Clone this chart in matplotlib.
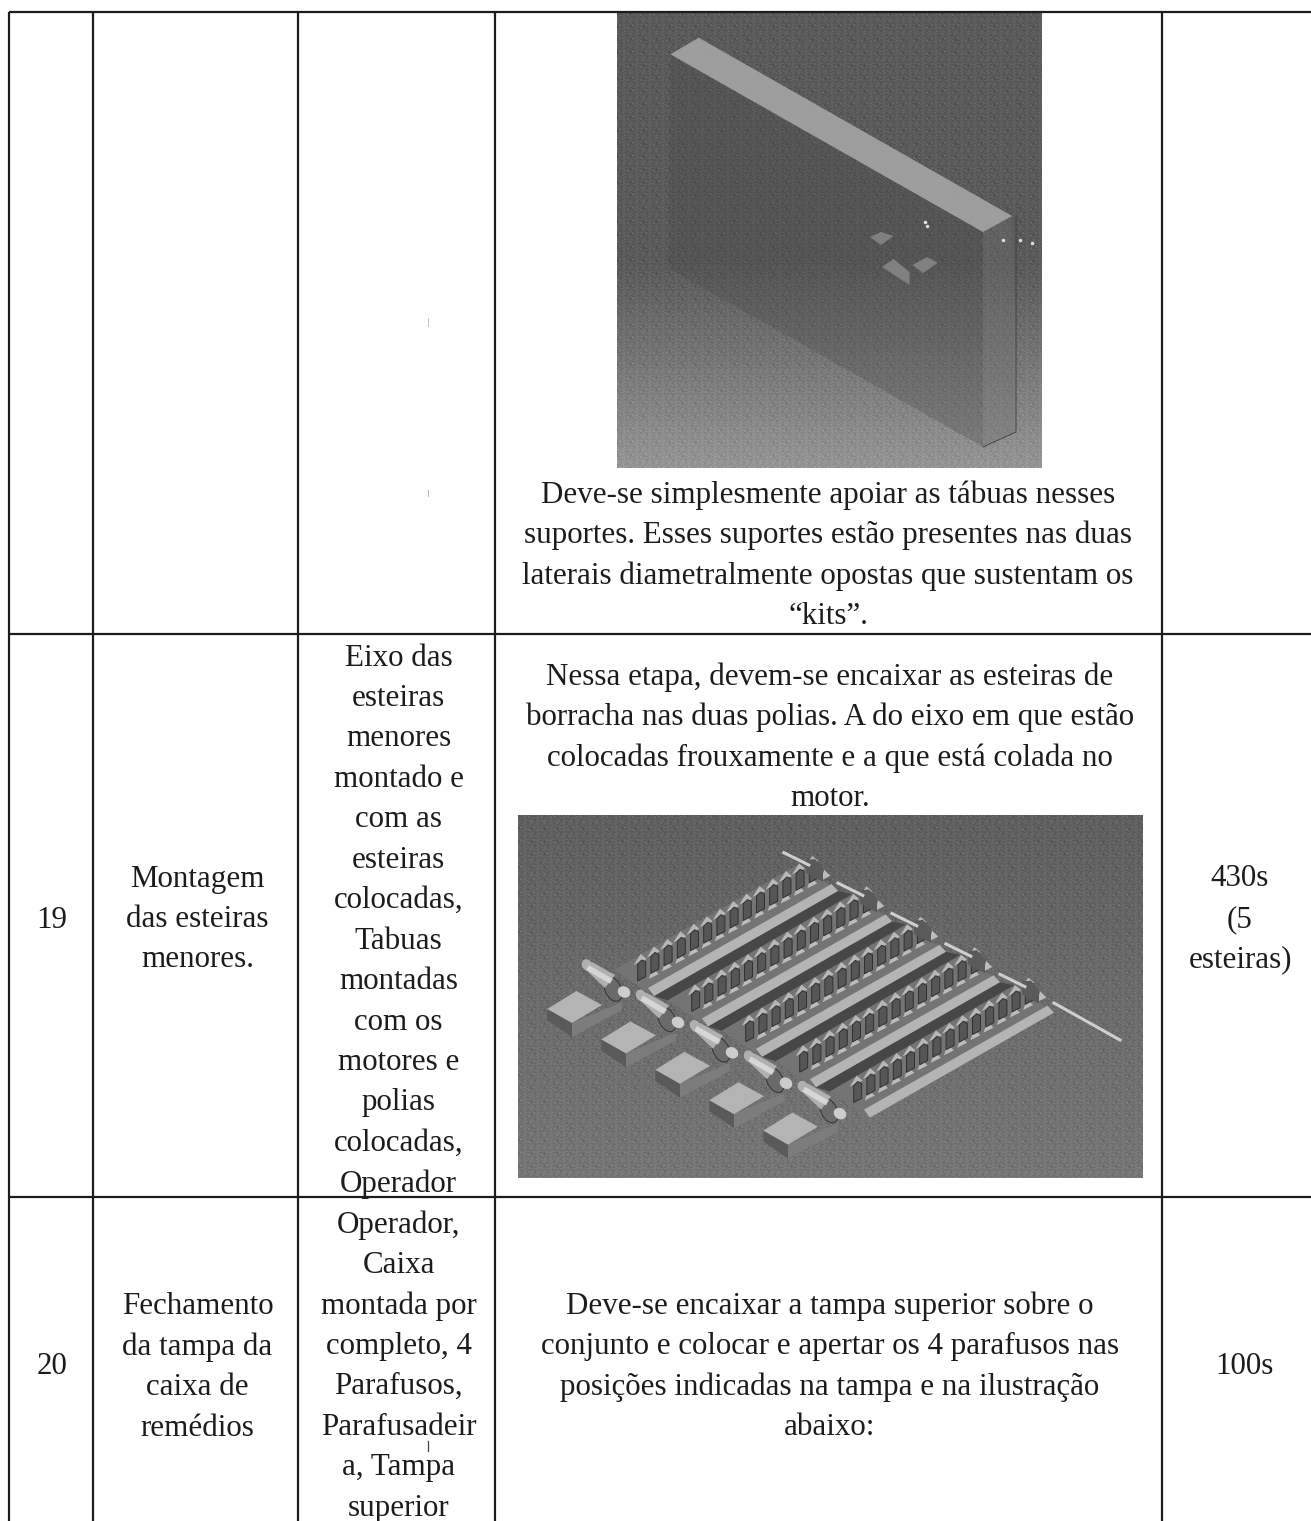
import numpy as np
import matplotlib
matplotlib.use('Agg')
import matplotlib.pyplot as plt
from matplotlib.patches import Polygon, Ellipse

plt.rcParams['font.family'] = ['Liberation Serif', 'DejaVu Serif']

# table text
top_desc = ['Deve-se simplesmente apoiar as tábuas nesses',
            'suportes. Esses suportes estão presentes nas duas',
            'laterais diametralmente opostas que sustentam os',
            '“kits”.']
num_19 = ['19']
name_19 = ['Montagem', 'das esteiras', 'menores.']
res_19 = ['Eixo das', 'esteiras', 'menores', 'montado e', 'com as', 'esteiras',
          'colocadas,', 'Tabuas', 'montadas', 'com os', 'motores e', 'polias',
          'colocadas,', 'Operador']
desc_19 = ['Nessa etapa, devem-se encaixar as esteiras de',
           'borracha nas duas polias. A do eixo em que estão',
           'colocadas frouxamente e a que está colada no',
           'motor.']
time_19 = ['430s', '(5', 'esteiras)']
num_20 = ['20']
name_20 = ['Fechamento', 'da tampa da', 'caixa de', 'remédios']
res_20 = ['Operador,', 'Caixa', 'montada por', 'completo, 4', 'Parafusos,',
          'Parafusadeir', 'a, Tampa', 'superior']
desc_20 = ['Deve-se encaixar a tampa superior sobre o',
           'conjunto e colocar e apertar os 4 parafusos nas',
           'posições indicadas na tampa e na ilustração',
           'abaixo:']
time_20 = ['100s']

W, H = 1311, 1521
LINE = 40.45
INK = '#1c1c1c'

fig = plt.figure(figsize=(W / 100, H / 100), dpi=100)
ax = fig.add_axes([0, 0, 1, 1])
ax.set_xlim(0, W)
ax.set_ylim(H, 0)
ax.axis('off')


def cell(x, y, lines):
    for n, s in enumerate(lines):
        ax.text(x, y + 3 + n * LINE, s, ha='center', va='center', fontsize=22.3, color=INK)


def poly(pts, color, z=3, alpha=1.0, edge='none'):
    ax.add_patch(Polygon(pts, closed=True, fc=color, ec=edge, lw=0.7, alpha=alpha, zorder=z))


def texture(nx, ny, low, high, start=0.0):
    # scanner-like grain, plain repeating pattern
    ramp = np.clip((np.linspace(0, 1, ny) - start) / (1 - start), 0, 1)
    img = np.tile((low + (high - low) * ramp)[:, None], (1, nx))
    jj, ii = np.meshgrid(np.arange(nx), np.arange(ny))
    img += (((ii * ii + 3 * jj * jj + ii * jj) % 13) / 12 - 0.5) * 0.10
    return np.clip(img, 0, 1)


# first illustration
ax.imshow(texture(425, 455, 0.35, 0.58, 0.55), cmap='gray', vmin=0, vmax=1,
          extent=(617, 1042, 468, 13), aspect='auto', interpolation='nearest', zorder=2)
poly([(670, 55), (983, 232), (983, 447), (668, 268)], '#4a4a4a', alpha=0.3)
poly([(983, 232), (1012, 216), (1016, 432), (983, 447)], '#707070', alpha=0.35)
poly([(670.5, 54.3), (698.7, 37.7), (1012, 216), (983, 232)], '#a4a4a4', alpha=0.92)
for pts in ([(870, 237), (881, 232), (893.5, 236), (881, 245)],
            [(882, 267), (893.5, 259), (909.5, 272), (909.5, 285)],
            [(912.5, 265), (927, 257), (937.7, 263), (923, 273)]):
    poly(pts, '#808080')
ax.plot([1016, 1016, 983], [216, 432, 447], color='#3c3c3c', lw=0.6, zorder=4)
ax.plot([925, 927, 1003, 1020, 1032], [222, 226, 240, 240, 243], ls='none', marker='.',
        ms=3, color='#dddddd', zorder=4)

# second illustration
ax.imshow(texture(625, 363, 0.37, 0.46), cmap='gray', vmin=0, vmax=1,
          extent=(518, 1143, 1178, 815), aspect='auto', interpolation='nearest', zorder=2)

ox, oy = 54.0, 30.4
ux, uy = 13.2, -7.55
vx, vy = 33.2, 21.7
for i in range(5):
    dx, dy = i * ox, i * oy
    z = 3 + i * 0.1

    def shift(pts):
        return [(x + dx, y + dy) for x, y in pts]

    # base block and plate
    poly(shift([(572, 1023), (572, 1037), (622, 1010), (622, 1002)]), '#7c7c7c', z)
    poly(shift([(547.3, 1009), (572, 1023), (572, 1037), (547.3, 1020)]), '#5a5a5a', z)
    poly(shift([(547.3, 1009), (576.4, 991), (602, 1005), (572, 1023)]), '#b4b4b4', z)

    # dark gap between the light strip and the next belt
    if i < 4:
        poly(shift([(654, 996), (838, 891), (852, 894), (667.7, 1000.4)]), '#474747', z)

    # belt with its teeth
    px, py = 613.7 + dx, 970 + dy
    poly([(px, py), (px + 14 * ux, py + 14 * uy),
          (px + 14 * ux + vx, py + 14 * uy + vy), (px + vx, py + vy)], '#747474', z)
    for k in range(14):
        bx = px + 28 + k * ux
        by = py + 2 + k * uy
        poly([(bx - 1, by - 18), (bx - 8, by - 7), (bx + 5, by - 13)], '#b8b8b8', z + 0.01)
        poly([(bx + 7, by + 7), (bx + 17, by + 2), (bx + 11, by - 4)], '#bcbcbc', z + 0.01)
        poly([(bx - 4, by + 9), (bx + 4, by + 4.5), (bx + 4, by - 10), (bx, by - 12), (bx - 4, by - 8)],
             '#565656', z + 0.02, edge='#303030')
    poly(shift([(648, 988), (831.6, 884), (838, 891), (654, 996)]), '#b4b4b4', z + 0.03)

    # motor and shaft
    ax.add_patch(Ellipse((613 + dx, 989 + dy), 16, 26, angle=-25, fc='#6a6a6a', ec='#333333',
                         lw=0.7, zorder=z + 0.03))
    ax.add_patch(Ellipse((587 + dx, 965 + dy), 10, 12, angle=-30, fc='#b0b0b0', ec='none', zorder=z + 0.04))
    poly(shift([(583, 967), (592, 962), (615, 975), (605, 988)]), '#b0b0b0', z + 0.04)
    ax.plot([590 + dx, 609 + dx], [969 + dy, 980 + dy], color='#e0e0e0', lw=4, alpha=0.8, zorder=z + 0.05)
    ax.add_patch(Ellipse((624 + dx, 992 + dy), 13, 11, angle=30, fc='#cccccc', ec='none', zorder=z + 0.05))

    # axle ends
    ax.plot([783.9 + dx, 808.8 + dx], [852.7 + dy, 865 + dy], color='#cfcfcf', lw=2.2, zorder=z + 0.05)
    if i == 4:
        ax.plot([1054, 1120], [1003, 1040], color='#cfcfcf', lw=2.2, zorder=z + 0.05)
    poly(shift([(806, 860), (815, 859), (823, 868), (823, 882), (806, 873)]), '#5a5a5a', z + 0.04)

# table grid
for x in [9, 93, 298, 495, 1162]:
    ax.plot([x, x], [12, H], color=INK, lw=1.6, solid_capstyle='butt', zorder=5)
for y in [12, 634, 1197]:
    ax.plot([9, W], [y, y], color=INK, lw=1.6, solid_capstyle='butt', zorder=5)

# cell text
cell(828, 492, top_desc)
cell(52, 917, num_19)
cell(197.5, 876, name_19)
cell(398.5, 655, res_19)
cell(830, 674, desc_19)
cell(1240, 876, time_19)
cell(52, 1364, num_20)
cell(197.5, 1304, name_20)
cell(398.5, 1222, res_20)
cell(830, 1303, desc_20)
cell(1244, 1364, time_20)

# stray scan marks
ax.plot([428, 428], [318, 326], color='#bbbbbb', lw=0.6)
ax.plot([428, 428], [490, 496], color='#aaaaaa', lw=0.6)
ax.plot([428, 428], [1441, 1451], color='#444444', lw=0.9, zorder=5)

fig.savefig('out.png', dpi=100)
